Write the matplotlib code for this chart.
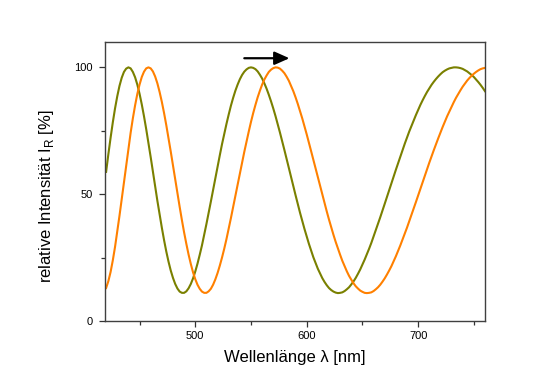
import matplotlib
matplotlib.use("Agg")
import matplotlib.pyplot as plt
from matplotlib.ticker import MultipleLocator

# wavelength grid (nm), 2 nm steps from 420 to 760
wavelength_nm = list(range(420, 761, 2))

# olive curve (original layer)
intensity_green = [
    58.8, 65.7, 72.2, 78.3, 83.8, 88.6, 92.7, 95.9, 98.2, 99.5, 100.0, 99.6, 98.2, 96.1, 93.2, 89.6, 85.4, 80.7, 75.6, 70.2,
    64.6, 58.8, 53.1, 47.4, 42.0, 36.8, 31.9, 27.4, 23.4, 19.9, 17.0, 14.6, 12.8, 11.6, 11.1, 11.1, 11.7, 12.9, 14.6, 16.8,
    19.5, 22.6, 26.1, 29.8, 33.9, 38.2, 42.6, 47.1, 51.7, 56.3, 60.9, 65.3, 69.7, 73.8, 77.7, 81.4, 84.9, 88.0, 90.8, 93.2,
    95.3, 97.0, 98.3, 99.2, 99.8, 100.0, 99.8, 99.3, 98.4, 97.1, 95.6, 93.7, 91.6, 89.2, 86.6, 83.8, 80.8, 77.6, 74.3, 70.9,
    67.4, 63.9, 60.3, 56.7, 53.1, 49.6, 46.1, 42.7, 39.5, 36.3, 33.3, 30.4, 27.7, 25.1, 22.8, 20.6, 18.7, 16.9, 15.4, 14.1,
    13.0, 12.2, 11.6, 11.2, 11.0, 11.1, 11.3, 11.8, 12.5, 13.3, 14.4, 15.6, 17.0, 18.6, 20.3, 22.2, 24.2, 26.3, 28.5, 30.8,
    33.3, 35.7, 38.3, 40.9, 43.5, 46.2, 48.9, 51.6, 54.3, 56.9, 59.6, 62.2, 64.8, 67.4, 69.9, 72.3, 74.7, 76.9, 79.1, 81.2,
    83.2, 85.2, 87.0, 88.7, 90.3, 91.7, 93.1, 94.3, 95.4, 96.4, 97.3, 98.1, 98.7, 99.2, 99.6, 99.8, 100.0, 100.0, 99.9, 99.7,
    99.4, 98.9, 98.4, 97.7, 97.0, 96.2, 95.2, 94.2, 93.1, 91.9, 90.6]

# orange curve (shifted to longer wavelengths)
intensity_orange = [
    13.0, 15.7, 19.3, 23.9, 29.2, 35.2, 41.5, 48.1, 54.9, 61.5, 68.0, 74.2, 79.9, 85.0, 89.5, 93.2, 96.2, 98.3, 99.6, 100.0,
    99.6, 98.4, 96.4, 93.7, 90.3, 86.4, 82.0, 77.2, 72.1, 66.8, 61.3, 55.8, 50.3, 45.0, 39.8, 34.9, 30.4, 26.2, 22.5, 19.2,
    16.5, 14.3, 12.7, 11.6, 11.1, 11.1, 11.7, 12.7, 14.3, 16.4, 18.9, 21.8, 25.0, 28.5, 32.3, 36.4, 40.6, 44.9, 49.3, 53.7,
    58.1, 62.4, 66.7, 70.8, 74.7, 78.5, 82.0, 85.2, 88.2, 90.8, 93.2, 95.2, 96.8, 98.2, 99.1, 99.7, 100.0, 99.9, 99.5, 98.7,
    97.7, 96.3, 94.7, 92.7, 90.6, 88.2, 85.6, 82.8, 79.9, 76.8, 73.6, 70.3, 66.9, 63.5, 60.1, 56.6, 53.2, 49.8, 46.5, 43.2,
    40.0, 37.0, 34.0, 31.2, 28.6, 26.1, 23.7, 21.6, 19.6, 17.8, 16.3, 14.9, 13.7, 12.8, 12.0, 11.5, 11.1, 11.0, 11.1, 11.3,
    11.8, 12.5, 13.3, 14.3, 15.5, 16.8, 18.3, 19.9, 21.6, 23.5, 25.5, 27.6, 29.8, 32.1, 34.4, 36.8, 39.3, 41.8, 44.4, 46.9,
    49.5, 52.1, 54.7, 57.3, 59.8, 62.4, 64.9, 67.3, 69.7, 72.0, 74.3, 76.5, 78.6, 80.7, 82.6, 84.5, 86.3, 88.0, 89.5, 91.0,
    92.4, 93.6, 94.8, 95.8, 96.7, 97.5, 98.2, 98.8, 99.3, 99.6, 99.8]

x_major = [500, 600, 700]
y_major = [0, 50, 100]
arrow_from = (544, 103.6)
arrow_to = (584.5, 103.6)

plt.rcParams['font.family'] = ['Liberation Sans', 'DejaVu Sans']
plt.rcParams['mathtext.fontset'] = 'custom'
plt.rcParams['mathtext.rm'] = 'Liberation Sans'

fig = plt.figure(figsize=(5.54, 3.8), dpi=100)
ax = fig.add_axes([105/554, 1-321/380, 380/554, 279/380])
ax.plot(wavelength_nm, intensity_green, color='#7a8000', lw=1.5)
ax.plot(wavelength_nm, intensity_orange, color='#ff8000', lw=1.5)
ax.set_xlim(419, 760)
ax.set_ylim(0, 110)
ax.set_xticks(x_major)
ax.set_yticks(y_major)
ax.xaxis.set_minor_locator(MultipleLocator(50))
ax.yaxis.set_minor_locator(MultipleLocator(25))
ax.tick_params(which='major', direction='out', length=4, width=0.9, labelsize=8, pad=5, color='#333333')
ax.tick_params(which='minor', direction='out', length=3, width=0.9, color='#333333')
ax.tick_params(axis='x', which='major', pad=3.5)
for s in ax.spines.values():
    s.set_color('#404040')
    s.set_linewidth(1.0)

ax.annotate('', xy=arrow_to, xytext=arrow_from,
            arrowprops=dict(arrowstyle='-|>,head_length=0.45,head_width=0.2', color='black',
                            lw=1.6, mutation_scale=20, shrinkA=0, shrinkB=0))

ax.set_xlabel('Wellenlänge λ [nm]', fontsize=12)
ax.set_ylabel(r'relative Intensität I$_\mathregular{R}$ [%]', fontsize=12, va='center')
ax.yaxis.set_label_coords(-0.155, 0.446)
ax.xaxis.set_label_coords(0.5, -0.105)

fig.savefig('out.png', dpi=100)
